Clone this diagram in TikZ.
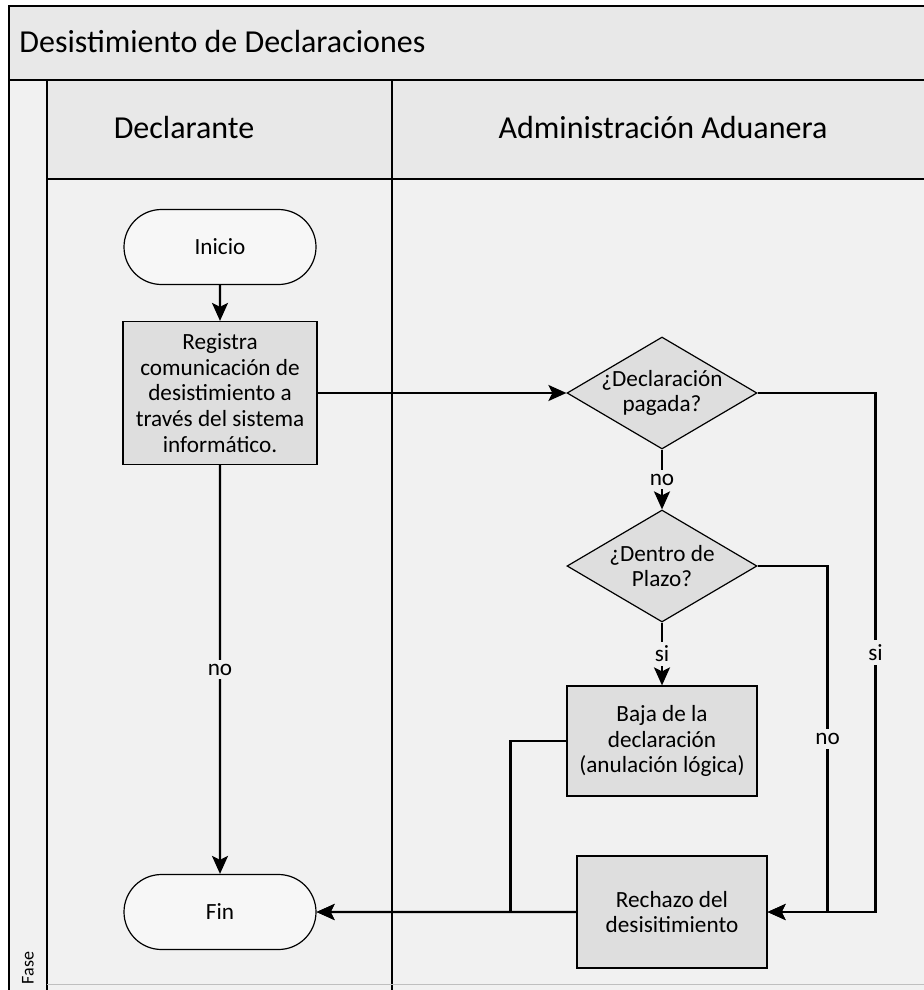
\documentclass[tikz,border=0pt]{standalone}
\usepackage{fontspec}
\setmainfont{Carlito}
\usetikzlibrary{shapes.geometric, shapes.misc, arrows.meta}

\definecolor{bandgray}{HTML}{E8E8E8}
\definecolor{bodygray}{HTML}{F1F1F1}
\definecolor{shapegray}{HTML}{DEDEDE}
\definecolor{termgray}{HTML}{F7F7F7}

\begin{document}
\begin{tikzpicture}[x = 0.5pt, y = -0.5pt,
    every node/.style = {font = \fontsize{11.6}{12.9}\selectfont, align = center},
    process/.style = {draw, rectangle, fill = shapegray, minimum width = 95pt, minimum height = 55pt, inner sep = 0pt, line width = 0.6pt},
    terminal/.style = {draw, rounded rectangle, fill = termgray, minimum width = 96pt, minimum height = 37.5pt, inner sep = 0pt, line width = 0.6pt},
    decision/.style = {draw, diamond, fill = shapegray, minimum width = 95pt, minimum height = 56pt, inner sep = 0pt, line width = 0.6pt, label = {[align = center]center:#1}},
    flow/.style = {line width = 1.2pt, -{Stealth[length = 9pt, width = 8pt, inset = 2pt]}},
    branch/.style = {fill = bodygray, inner sep = 2pt},
    lane/.style = {line width = 1pt}]
            \useasboundingbox (0,0) rectangle (924,990);
            \fill[white] (0,0) rectangle (924,990);
            \fill[bodygray] (9,6) rectangle (924,990);
            \fill[bandgray] (9,6) rectangle (924,80);
            \fill[bandgray] (47,80) rectangle (924,179);
            \draw[lane] (924,6) -- (9,6) -- (9,990);
            \draw[lane] (9,80) -- (924,80);
            \draw[lane] (47,80) -- (47,990);
            \draw[lane] (47,179) -- (924,179);
            \draw[lane] (392,80) -- (392,990);
            \draw[gray!50, line width = 0.4pt] (47,984) -- (924,984);

            \node[anchor = west, inner sep = 0pt, font = \fontsize{16}{19}\selectfont] (title) at (19,42) {Desistimiento de Declaraciones};
            \node[font = \fontsize{16}{19}\selectfont] (declarante) at (184,128) {Declarante};
            \node[font = \fontsize{16}{19}\selectfont] (aduana) at (663,128) {Administración Aduanera};
            \node[rotate = 90, font = \fontsize{9}{11}\selectfont] (fase) at (28,968) {Fase};

            \node[terminal] (inicio) at (220,247) {Inicio};
            \node[process, minimum width = 97pt, minimum height = 71.5pt] (registra) at (220,393) {Registra\\comunicación de\\desistimiento a\\través del sistema\\informático.};
            \node[decision = {¿Declaración\\pagada?}] (pagada) at (662,393) {};
            \node[decision = {¿Dentro de\\Plazo?}] (plazo) at (662,566) {};
            \node[process] (baja) at (662,741) {Baja de la\\declaración\\(anulación lógica)};
            \node[process, minimum height = 56pt] (rechazo) at (672,912) {Rechazo del\\desisitimiento};
            \node[terminal] (fin) at (220,912) {Fin};

            \draw[flow] (inicio) -- (registra);
            \draw[flow] (registra) -- (pagada);
            \draw[flow] (registra) -- node[branch] {no} (fin);
            \draw[flow] (pagada) -- node[branch] {no} (plazo);
            \draw[flow] (plazo) -- node[branch] {si} (baja);
            \draw[flow] (pagada.east) -- ++(118,0) |- node[branch, pos = 0.25] {si} (rechazo.east);
            \draw[flow] (plazo.east) -- ++(70,0) |- node[branch, pos = 0.25] {no} (rechazo.east);
            \draw[flow] (baja.west) -- ++(-56,0) |- (fin.east);
            \draw[flow] (rechazo) -- (fin);
        \end{tikzpicture}
\end{document}
